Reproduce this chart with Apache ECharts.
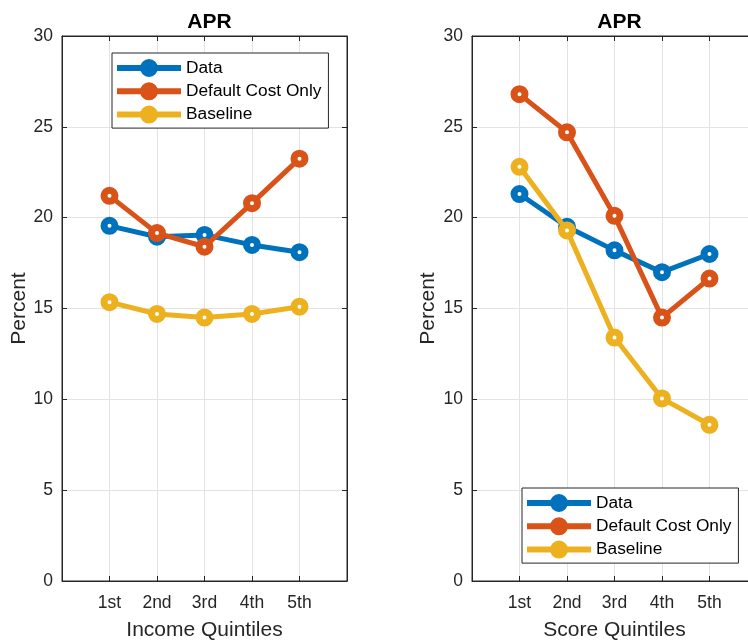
<!DOCTYPE html>
<html><head><meta charset="utf-8">
<script src="https://cdn.jsdelivr.net/npm/echarts@6/dist/echarts.min.js"></script>
<style>html,body{margin:0;padding:0;background:#fff}#c{width:748px;height:642px}</style>
</head><body><div id="c"></div>
<script>
const categories = ['1st', '2nd', '3rd', '4th', '5th'];
const seriesNames = ['Data', 'Default Cost Only', 'Baseline'];
const incomeData = [19.55, 18.95, 19.05, 18.5, 18.1];
const incomeDefaultCost = [21.2, 19.15, 18.4, 20.8, 23.25];
const incomeBaseline = [15.35, 14.7, 14.5, 14.7, 15.1];
const scoreData = [21.3, 19.5, 18.2, 17.0, 18.0];
const scoreDefaultCost = [26.8, 24.7, 20.1, 14.5, 16.65];
const scoreBaseline = [22.8, 19.3, 13.4, 10.05, 8.6];
const yTicks = [0, 5, 10, 15, 20, 25, 30];

const colors = ['#0072BD', '#D95319', '#EDB120'];
const font = 'Liberation Sans, Arial, Helvetica, sans-serif';
const txt = '#262626';
const legendIcon = 'path://M0,6H64V12H0Z M23,9A9,9,0,1,1,41,9A9,9,0,1,1,23,9Z';

const grids = [
  {left: 62, top: 36, width: 285, height: 545},
  {left: 472, top: 36, width: 285, height: 545}
];
const xNames = ['Income Quintiles', 'Score Quintiles'];

function pts(arr) { return arr.map((v, i) => [i + 1, v]); }

const tick = {show: true, inside: true, length: 5, lineStyle: {color: txt, width: 1}};
const axLine = {show: true, onZero: false, lineStyle: {color: txt, width: 1}};

const option = {
  animation: false,
  backgroundColor: '#fff',
  title: [
    {text: 'APR', left: 204.5, top: 7, textAlign: 'center', textStyle: {fontFamily: font, fontSize: 21, fontWeight: 'bold', color: '#000'}},
    {text: 'APR', left: 614.5, top: 7, textAlign: 'center', textStyle: {fontFamily: font, fontSize: 21, fontWeight: 'bold', color: '#000'}}
  ],
  grid: grids.map(g => Object.assign({show: true, borderColor: txt, borderWidth: 1, backgroundColor: '#fff', outerBoundsMode: 'none', containLabel: false}, g)),
  legend: [
    {left: 112, top: 53},
    {left: 522, top: 488}
  ].map((p, k) => ({
    left: p.left, top: p.top, orient: 'vertical',
    backgroundColor: '#fff', borderColor: txt, borderWidth: 1,
    padding: [6, 7, 4.5, 5], itemGap: 5.3, itemWidth: 64, itemHeight: 18,
    textStyle: {fontFamily: font, fontSize: 17.3, color: '#000', lineHeight: 18},
    data: seriesNames.map((n, i) => ({name: n, icon: legendIcon, itemStyle: {color: colors[i], borderWidth: 0}})),
    selectedMode: false
  })),
  xAxis: [],
  yAxis: [],
  series: []
};

[0, 1].forEach(k => {
  option.xAxis.push({
    type: 'value', gridIndex: k, min: 0, max: 6, interval: 1, position: 'bottom',
    name: xNames[k], nameLocation: 'middle', nameGap: 38.5,
    nameTextStyle: {fontFamily: font, fontSize: 21, color: txt},
    axisLine: axLine, axisTick: tick,
    axisLabel: {fontFamily: font, fontSize: 17.5, color: txt, margin: 13,
      formatter: v => (v >= 1 && v <= 5) ? categories[v - 1] : ''},
    splitLine: {show: true, lineStyle: {color: '#e3e3e3', width: 1}}
  });
  option.xAxis.push({
    type: 'value', gridIndex: k, min: 0, max: 6, interval: 1, position: 'top',
    axisLine: axLine, axisTick: tick,
    axisLabel: {show: false}, splitLine: {show: false}
  });
  option.yAxis.push({
    type: 'value', gridIndex: k, min: yTicks[0], max: yTicks[yTicks.length - 1], interval: 5, position: 'left',
    name: 'Percent', nameLocation: 'middle', nameGap: k === 0 ? 28 : 33, nameRotate: 90,
    nameTextStyle: {fontFamily: font, fontSize: 21, color: txt},
    axisLine: axLine, axisTick: tick,
    axisLabel: {fontFamily: font, fontSize: 17.5, color: txt, margin: 9},
    splitLine: {show: true, lineStyle: {color: '#e3e3e3', width: 1}}
  });
  option.yAxis.push({
    type: 'value', gridIndex: k, min: yTicks[0], max: yTicks[yTicks.length - 1], interval: 5, position: 'right',
    axisLine: axLine, axisTick: tick,
    axisLabel: {show: false}, splitLine: {show: false}
  });
});

const sets = [
  [incomeData, incomeDefaultCost, incomeBaseline],
  [scoreData, scoreDefaultCost, scoreBaseline]
];
sets.forEach((grp, k) => {
  grp.forEach((arr, i) => {
    option.series.push({
      name: seriesNames[i], type: 'line', xAxisIndex: k * 2, yAxisIndex: k * 2,
      data: pts(arr), symbol: 'circle', symbolSize: 11,
      lineStyle: {color: colors[i], width: 5},
      itemStyle: {color: '#fff', borderColor: colors[i], borderWidth: 7},
      z: 2 + i
    });
  });
});

const chart = echarts.init(document.getElementById('c'), null, {renderer: 'canvas'});
chart.setOption(option);
</script>
</body></html>
